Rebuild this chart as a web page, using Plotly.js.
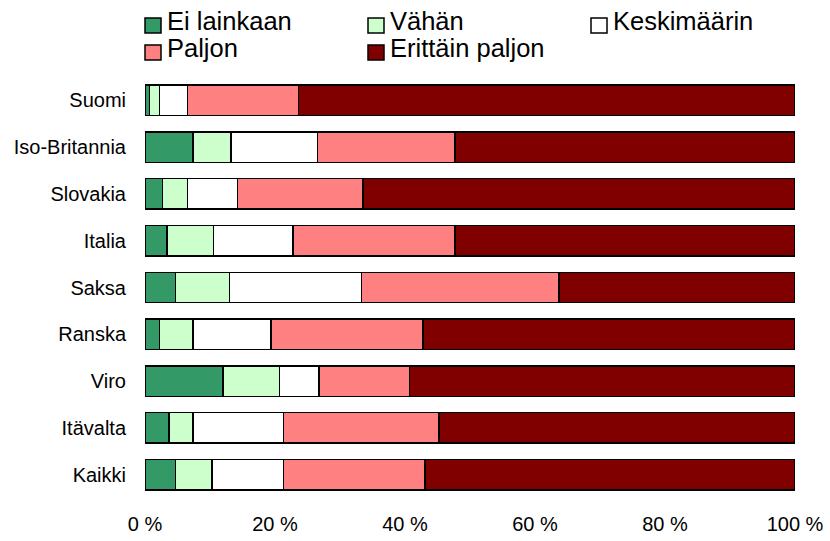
<!DOCTYPE html>
<html>
<head>
<meta charset="utf-8">
<script src="https://cdn.plot.ly/plotly-3.0.1.min.js"></script>
<style>html,body{margin:0;padding:0;background:#fff;}#chart{width:830px;height:541px;}</style>
</head>
<body>
<div id="chart"></div>
<script>
const categories = ["Suomi", "Iso-Britannia", "Slovakia", "Italia", "Saksa", "Ranska", "Viro", "Itävalta", "Kaikki"];
const seriesNames = ["Ei lainkaan", "Vähän", "Keskimäärin", "Paljon", "Erittäin paljon"];
const eiLainkaan    = [0.7, 7.4, 2.7, 3.4, 4.7, 2.2, 12.0, 3.7, 4.7];
const vahan         = [1.5, 5.8, 3.8, 7.1, 8.3, 5.2, 8.7, 3.7, 5.6];
const keskimaarin   = [4.3, 13.3, 7.7, 12.3, 20.3, 12.0, 6.1, 13.9, 11.0];
const paljon        = [17.1, 21.2, 19.3, 24.9, 30.4, 23.4, 13.9, 23.9, 21.8];
const erittainPaljon= [76.4, 52.3, 66.5, 52.3, 36.3, 57.2, 59.3, 54.8, 56.9];
const colors = ["#339966", "#CCFFCC", "#FFFFFF", "#FF8080", "#800000"];
const allSeries = [eiLainkaan, vahan, keskimaarin, paljon, erittainPaljon];

const traces = allSeries.map((vals, i) => ({
  type: 'bar',
  orientation: 'h',
  name: seriesNames[i],
  y: categories,
  x: vals,
  width: 0.65,
  marker: {color: colors[i], line: {color: '#000000', width: 1.5}},
  hoverinfo: 'x+y+name'
}));

// Plot area geometry (pixels) for placing the custom legend
const W = 830, H = 541;
const M = {l: 145, r: 35, t: 77, b: 43};
const pw = W - M.l - M.r, ph = H - M.t - M.b;
const px = p => (p - M.l) / pw;
const py = p => (H - M.b - p) / ph;

// legend grid: 3 columns, 2 rows
const colX = [145, 368, 591];
const rowSym = [18, 45];
const rowText = [21, 48];
const shapes = [], annotations = [];
seriesNames.forEach((name, i) => {
  const c = i % 3, r = Math.floor(i / 3);
  shapes.push({
    type: 'rect', xref: 'paper', yref: 'paper',
    x0: px(colX[c]), x1: px(colX[c] + 16),
    y0: py(rowSym[r]), y1: py(rowSym[r] + 15),
    fillcolor: colors[i], line: {color: '#000', width: 1.5}
  });
  annotations.push({
    xref: 'paper', yref: 'paper', x: px(colX[c] + 20), y: py(rowText[r]),
    xanchor: 'left', yanchor: 'middle', showarrow: false, text: name,
    font: {size: 25.5, color: '#000'}
  });
});

const layout = {
  width: W, height: H,
  barmode: 'stack',
  paper_bgcolor: '#fff', plot_bgcolor: '#fff',
  margin: {l: M.l, r: M.r, t: M.t, b: M.b, pad: 0, autoexpand: false},
  font: {family: 'Liberation Sans, Arial, sans-serif', color: '#000'},
  xaxis: {
    range: [0, 100], dtick: 20, tick0: 0, ticksuffix: ' %',
    showgrid: false, zeroline: false, showline: false,
    ticks: 'outside', ticklen: 8, tickcolor: 'rgba(0,0,0,0)',
    tickfont: {size: 20, color: '#000'}, fixedrange: true
  },
  yaxis: {
    autorange: 'reversed', showgrid: false, zeroline: false, showline: false,
    ticks: 'outside', ticklen: 14, tickcolor: 'rgba(0,0,0,0)',
    tickfont: {size: 20, color: '#000'}, fixedrange: true
  },
  shapes: shapes,
  annotations: annotations,
  showlegend: false
};
Plotly.newPlot('chart', traces, layout, {displayModeBar: false, staticPlot: true});
</script>
</body>
</html>
